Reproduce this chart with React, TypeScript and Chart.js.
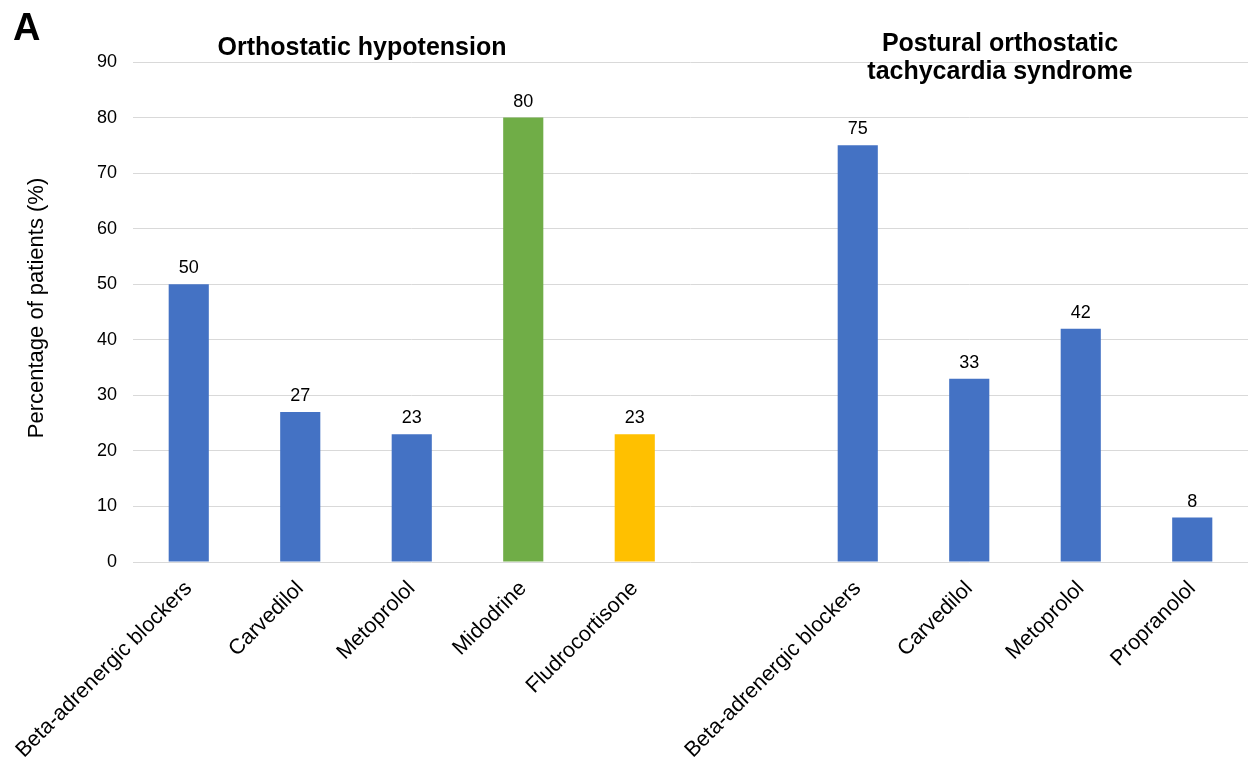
import React, { useEffect, useRef } from "react";
import { Chart, registerables } from "chart.js";

Chart.register(...registerables);

const categories = [
  "Beta-adrenergic blockers",
  "Carvedilol",
  "Metoprolol",
  "Midodrine",
  "Fludrocortisone",
  "",
  "Beta-adrenergic blockers",
  "Carvedilol",
  "Metoprolol",
  "Propranolol",
];
const values: (number | null)[] = [50, 27, 23, 80, 23, null, 75, 33, 42, 8];
const barColors = [
  "#4472C4",
  "#4472C4",
  "#4472C4",
  "#70AD47",
  "#FFC000",
  "#4472C4",
  "#4472C4",
  "#4472C4",
  "#4472C4",
  "#4472C4",
];
const yTicks = { min: 0, max: 90, step: 10 };
const panelLetter = "A";
const groupTitle1 = ["Orthostatic hypotension"];
const groupTitle2 = ["Postural orthostatic", "tachycardia syndrome"];
const yAxisTitle = "Percentage of patients (%)";

const FONT = "'Liberation Sans', Arial, Helvetica, sans-serif";

const annotations = {
  id: "annotations",
  afterDatasetsDraw(chart: any) {
    const ctx = chart.ctx;
    ctx.save();
    // data labels
    const meta = chart.getDatasetMeta(0);
    ctx.fillStyle = "#000";
    ctx.font = `18px ${FONT}`;
    ctx.textAlign = "center";
    ctx.textBaseline = "alphabetic";
    meta.data.forEach((bar: any, i: number) => {
      const v = values[i];
      if (v == null) return;
      ctx.fillText(String(v), bar.x, bar.y - 11);
    });
    // panel letter
    ctx.font = `bold 38px ${FONT}`;
    ctx.textAlign = "left";
    ctx.fillText(panelLetter, 13, 40);
    // group titles
    ctx.font = `bold 25px ${FONT}`;
    ctx.textAlign = "center";
    groupTitle1.forEach((t, i) => ctx.fillText(t, 362, 55 + i * 28));
    groupTitle2.forEach((t, i) => ctx.fillText(t, 1000, 51 + i * 28));
    // y axis title
    ctx.font = `22px ${FONT}`;
    ctx.textBaseline = "middle";
    ctx.translate(37, 308);
    ctx.rotate(-Math.PI / 2);
    ctx.fillText(yAxisTitle, 0, 0);
    ctx.restore();
  },
};

export default function App() {
  const ref = useRef<HTMLCanvasElement>(null);
  useEffect(() => {
    if (!ref.current) return;
    const chart = new Chart(ref.current, {
      type: "bar",
      data: {
        labels: categories,
        datasets: [
          {
            data: values,
            backgroundColor: barColors,
            borderWidth: 0,
            categoryPercentage: 1,
            barPercentage: 0.36,
          },
        ],
      },
      options: {
        responsive: false,
        animation: false,
        devicePixelRatio: 1,
        layout: { padding: { top: 62, right: 9, left: 0, bottom: 0 } },
        plugins: {
          legend: { display: false },
          tooltip: { enabled: false },
          title: { display: false },
        },
        scales: {
          x: {
            grid: { display: false },
            border: { display: false },
            ticks: {
              color: "#000",
              font: { family: FONT, size: 21.5 },
              maxRotation: 45,
              minRotation: 45,
              autoSkip: false,
              padding: 6,
            },
            afterFit(scale: any) {
              scale.height = 209;
            },
          },
          y: {
            min: yTicks.min,
            max: yTicks.max,
            grid: { color: "#d9d9d9", lineWidth: 1, drawTicks: false },
            border: { display: false },
            ticks: {
              stepSize: yTicks.step,
              color: "#000",
              font: { family: FONT, size: 18 },
              padding: 16,
            },
            afterFit(scale: any) {
              scale.width = 133;
            },
          },
        },
      },
      plugins: [annotations],
    });
    return () => chart.destroy();
  }, []);
  return (
    <div style={{ position: "fixed", left: 0, top: 0, width: 1257, height: 771, background: "#fff" }}>
      <canvas ref={ref} width={1257} height={771} />
    </div>
  );
}
